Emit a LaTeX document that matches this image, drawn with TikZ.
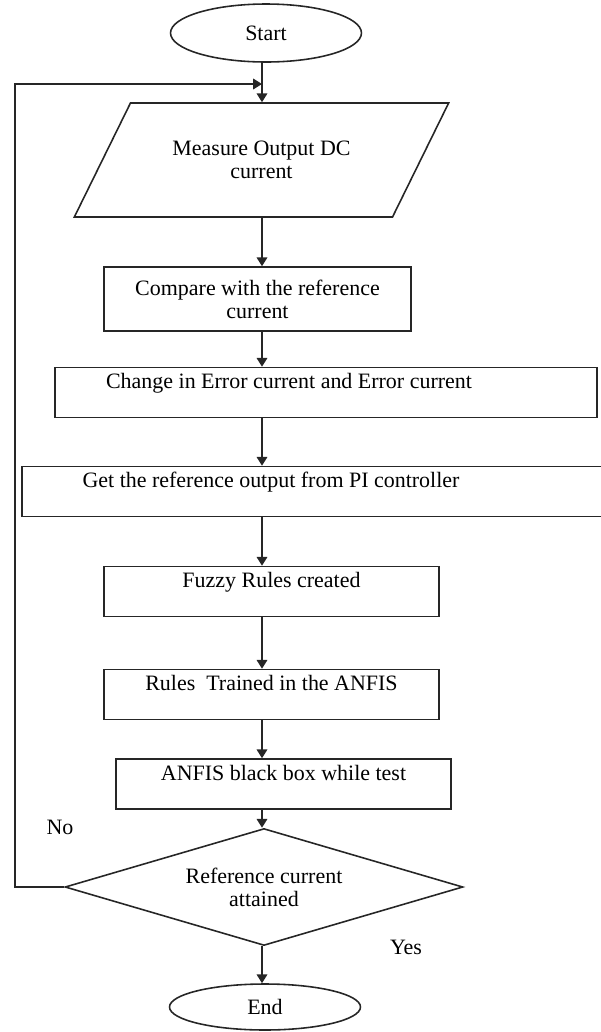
\documentclass[tikz,border=0pt]{standalone}
\usepackage{fontspec}
\setmainfont{Liberation Serif}
\usepackage{tikz}
\usetikzlibrary{positioning,shapes.geometric,arrows.meta}

\tikzset{
  every node/.style={font=\fontsize{12.5}{13}\selectfont, align=center},
  flow/.style={draw=black!85, line width=0.9pt},
  terminal/.style={flow, ellipse, minimum width=3.82cm, inner sep=0pt},
  inout/.style={flow, trapezium, trapezium left angle=50.5, trapezium right angle=129.5,
    trapezium stretches=true, minimum width=7.5cm, minimum height=2.28cm},
  stepbox/.style={flow, rectangle, inner ysep=0pt, text height=0.42cm, text depth=0.58cm},
  decision/.style={flow, diamond, aspect=3.4, minimum width=7.96cm, minimum height=2.34cm, inner sep=0pt}
}

\begin{document}
\begin{tikzpicture}[x=0.02cm, y=-0.02cm, >={Triangle[length=5pt,width=6pt]},
    line width=0.9pt, draw=black!85]
  \useasboundingbox (0,0) rectangle (601,1032);

  % steps of the loop
  \node[terminal, minimum height=1.16cm] (start) at (266,33) {Start};
  \node[inout] (measure) at (261.5,160) {Measure Output DC\\current};
  \node[flow, minimum width=6.14cm, minimum height=1.28cm] (compare) at (257.5,299) {Compare with the reference\\current};
  \node[stepbox, minimum width=10.84cm] (error) at (326,392.5) {Change in Error current and Error current\hspace*{1.48cm}};
  \node[stepbox, minimum width=11.62cm] (picontrol) at (312.5,491.5) {Get the reference output from PI controller\hspace*{1.66cm}};
  \node[stepbox, minimum width=6.7cm] (fuzzy) at (271.5,591.5) {Fuzzy Rules created};
  \node[stepbox, minimum width=6.7cm] (train) at (271.5,694.5) {Rules~ Trained in the ANFIS};
  \node[stepbox, minimum width=6.7cm] (blackbox) at (283.5,784) {ANFIS black box while test};
  \node[decision] (check) at (264,887) {Reference current\\attained};
  \node[terminal, minimum height=0.92cm] (finish) at (265,1007) {End};
  \node (no) at (60,827) {No};
  \node (yes) at (406,947) {Yes};

  \coordinate (spine) at (262,0);
  \coordinate (loopleft) at (15,84);

  % main flow
  \foreach \a/\b in {start/measure, measure/compare, compare/error, error/picontrol,
      picontrol/fuzzy, fuzzy/train, train/blackbox, blackbox/check, check/finish}
    \draw[->] (\a.south -| spine) -- (\b.north -| spine);

  % back to measuring
  \draw[->] (check.west) -| (loopleft) -- (loopleft -| spine);
\end{tikzpicture}
\end{document}
